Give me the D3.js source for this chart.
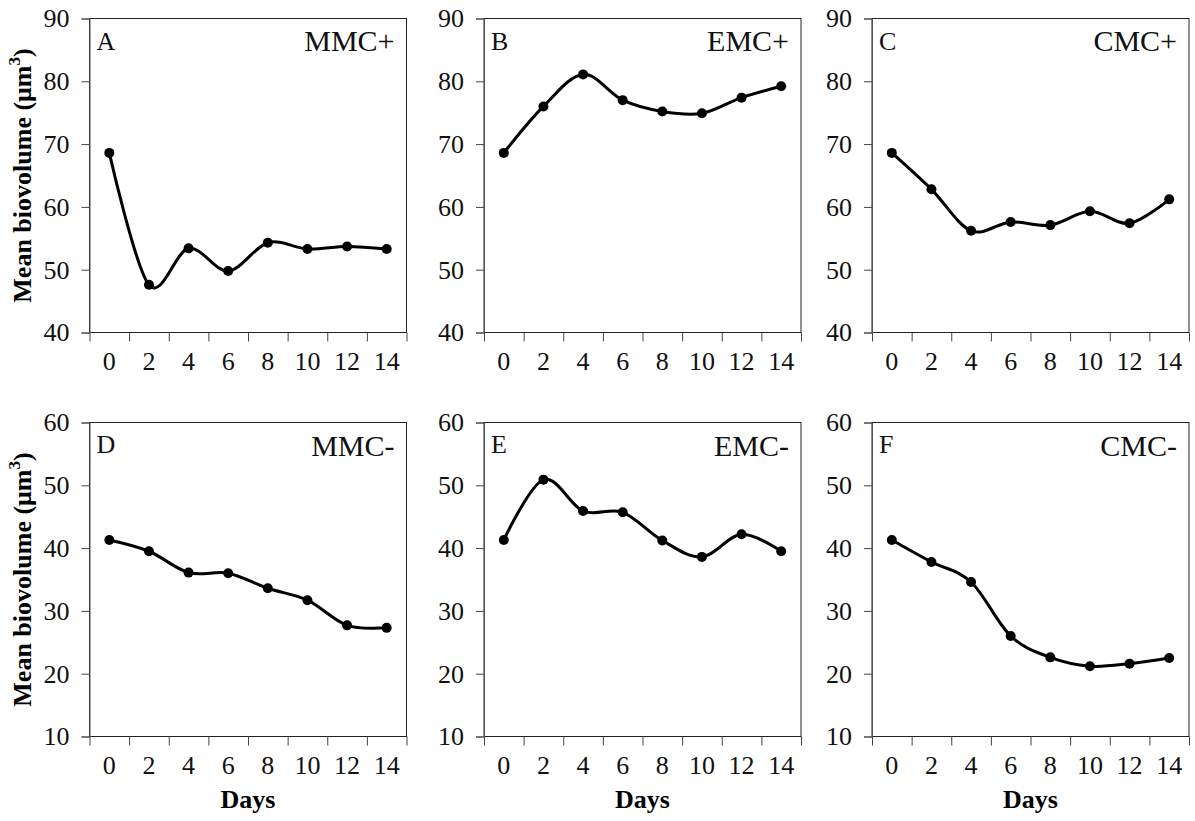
<!DOCTYPE html>
<html>
<head>
<meta charset="utf-8">
<script src="https://cdn.jsdelivr.net/npm/d3@7.9.0/dist/d3.min.js"></script>
<style>
  body { margin: 0; background: #fff; }
  svg { font-family: "Liberation Serif", "Times New Roman", serif; }
</style>
</head>
<body>
<svg id="chart" width="1195" height="821"></svg>
<script>
// days on the x axis
const days = [0, 2, 4, 6, 8, 10, 12, 14];

// mean biovolume per treatment
const mmcPlus  = [68.6, 47.6, 53.4, 49.8, 54.3, 53.3, 53.7, 53.3];
const emcPlus  = [68.6, 76.0, 81.1, 77.0, 75.2, 74.9, 77.4, 79.2];
const cmcPlus  = [68.6, 62.8, 56.2, 57.6, 57.1, 59.3, 57.4, 61.2];
const mmcMinus = [41.3, 39.5, 36.1, 36.0, 33.6, 31.7, 27.7, 27.3];
const emcMinus = [41.3, 50.9, 45.9, 45.7, 41.2, 38.6, 42.2, 39.5];
const cmcMinus = [41.3, 37.8, 34.6, 26.0, 22.6, 21.2, 21.6, 22.5];

const letters = ['A', 'B', 'C', 'D', 'E', 'F'];
const names = ['MMC+', 'EMC+', 'CMC+', 'MMC-', 'EMC-', 'CMC-'];
const series = [mmcPlus, emcPlus, cmcPlus, mmcMinus, emcMinus, cmcMinus];
const topTicks = [40, 50, 60, 70, 80, 90];
const bottomTicks = [10, 20, 30, 40, 50, 60];

const svg = d3.select('#chart');

// panel layout
const lefts = [89.5, 484, 872];
const tops = [18.5, 422.5];
const w = 317, h = 314;

series.forEach((values, i) => {
    const col = i % 3, row = Math.floor(i / 3);
    const ticks = row === 0 ? topTicks : bottomTicks;

    const g = svg.append('g')
        .attr('transform', `translate(${lefts[col]},${tops[row]})`);

    const x = d3.scaleBand().domain(days).range([0, w]);
    const xEdge = d3.scaleLinear().domain([0, days.length]).range([0, w]);
    const y = d3.scaleLinear().domain(d3.extent(ticks)).range([h, 0]);

    // frame
    g.append('rect')
        .attr('width', w).attr('height', h)
        .attr('fill', 'none').attr('stroke', '#222').attr('stroke-width', 1);

    // y axis
    const yAxis = g.append('g')
        .call(d3.axisLeft(y).tickValues(ticks).tickSize(8).tickPadding(12));
    yAxis.select('.domain').attr('stroke', '#555');
    yAxis.selectAll('.tick line').attr('stroke', '#444');
    yAxis.selectAll('text')
        .attr('font-size', 26).attr('fill', '#111')
        .attr('font-family', '"Liberation Serif", serif');

    // x tick marks at category edges
    const xTicks = g.append('g').attr('transform', `translate(0,${h})`)
        .call(d3.axisBottom(xEdge).tickValues(d3.range(days.length + 1)).tickSize(9).tickFormat(''));
    xTicks.select('.domain').remove();
    xTicks.selectAll('.tick line').attr('stroke', '#444');

    // x labels centred in categories
    const xLabels = g.append('g').attr('transform', `translate(0,${h})`)
        .call(d3.axisBottom(x).tickSize(0).tickPadding(19));
    xLabels.select('.domain').remove();
    xLabels.selectAll('text')
        .attr('font-size', 26).attr('fill', '#111')
        .attr('font-family', '"Liberation Serif", serif');

    // smoothed line
    const line = d3.line()
        .x((d, j) => x(days[j]) + x.bandwidth() / 2)
        .y(d => y(d))
        .curve(d3.curveCardinal.tension(0));

    g.append('path')
        .datum(values)
        .attr('d', line)
        .attr('fill', 'none')
        .attr('stroke', '#000')
        .attr('stroke-width', 3);

    g.selectAll('circle')
        .data(values)
        .join('circle')
        .attr('cx', (d, j) => x(days[j]) + x.bandwidth() / 2)
        .attr('cy', d => y(d))
        .attr('r', 5)
        .attr('fill', '#000');

    // panel letter and treatment name
    g.append('text')
        .attr('x', 7).attr('y', row === 0 ? 31 : 30)
        .attr('font-size', 26).attr('fill', '#111')
        .text(letters[i]);

    g.append('text')
        .attr('x', w - 12).attr('y', row === 0 ? 32 : 33)
        .attr('text-anchor', 'end')
        .attr('font-size', 30).attr('fill', '#111')
        .text(names[i]);

    // axis titles
    if (row === 1) {
        g.append('text')
            .attr('x', w / 2).attr('y', h + 71)
            .attr('text-anchor', 'middle')
            .attr('font-size', 26).attr('font-weight', 'bold')
            .text('Days');
    }
    if (col === 0) {
        const t = g.append('text')
            .attr('transform', `translate(-59,${h / 2}) rotate(-90)`)
            .attr('text-anchor', 'middle')
            .attr('font-size', 26).attr('font-weight', 'bold');
        t.append('tspan').text('Mean biovolume (μm');
        t.append('tspan').attr('font-size', 17).attr('dy', -11).text('3');
        t.append('tspan').attr('dy', 11).text(')');
    }
});
</script>
</body>
</html>
